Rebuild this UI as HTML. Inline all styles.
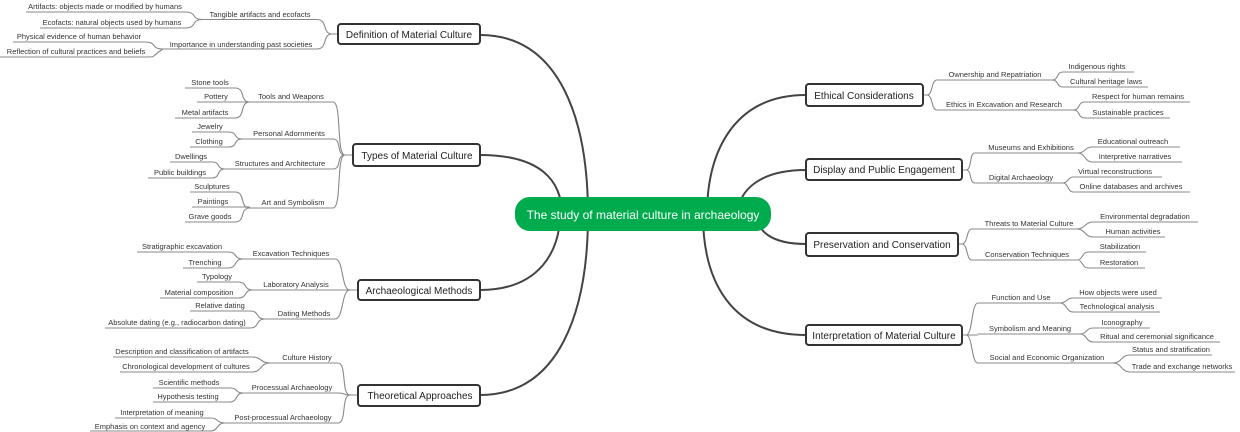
<!DOCTYPE html>
<html><head><meta charset="utf-8"><style>
html,body{margin:0;padding:0;background:#fff;}
svg{display:block;}
text{font-family:"Liberation Sans",Arial,sans-serif;}
.s{font-size:7.5px;fill:#333;text-anchor:middle;}
.m{font-size:10px;fill:#222;text-anchor:middle;}
.l{fill:none;stroke:#888;stroke-width:1.1;}
.b{fill:#fff;stroke:#333;stroke-width:2;}
.c{fill:none;stroke:#444;stroke-width:2;}
</style></head><body>
<svg width="1240" height="432" viewBox="0 0 1240 432" xmlns="http://www.w3.org/2000/svg">
<path class="c" d="M480 35C560 35 588 120 588 215"/>
<path class="c" d="M480 155C540 155 562 180 562 215"/>
<path class="c" d="M480 290C540 290 560 250 560 215"/>
<path class="c" d="M480 395C560 395 588 310 588 215"/>
<path class="c" d="M806 95C735 95 707 150 707 215"/>
<path class="c" d="M806 170C760 170 738 190 738 215"/>
<path class="c" d="M806 244C770 244 757 230 757 215"/>
<path class="c" d="M806 335C730 335 703 280 703 215"/>
<rect x="515" y="197" width="256" height="34" rx="15" fill="#00ab4e"/>
<text x="643" y="219" font-size="12" fill="#fff" text-anchor="middle">The study of material culture in archaeology</text>

<g>
<path class="l" d="M26 12H185M40 28H185M13 42H145M0 57H145M203 19.5H317M163 49H317"/>
<path class="l" d="M185 12C198 12 190 19.5 203 19.5M185 28C198 28 190 19.5 203 19.5M145 42C158 42 150 49 163 49M145 57C158 57 150 57 163 49M317 19.5C328 19.5 322 34 332 34M317 49C328 49 322 34 332 34M332 34H338"/>
<text class="s" x="105" y="9">Artifacts: objects made or modified by humans</text>
<text class="s" x="112" y="25">Ecofacts: natural objects used by humans</text>
<text class="s" x="79" y="39">Physical evidence of human behavior</text>
<text class="s" x="76" y="54">Reflection of cultural practices and beliefs</text>
<text class="s" x="260" y="17">Tangible artifacts and ecofacts</text>
<text class="s" x="241" y="47">Importance in understanding past societies</text>
<rect class="b" x="338" y="24" width="142" height="20" rx="3"/>
<text class="m" x="409" y="38">Definition of Material Culture</text>
</g>

<g>
<path class="l" d="M250 102H333M243 139H333M225 169H333M250 208H333M185 88H235M197 102H235M175 118H235M192 132H228M190 147H228M170 162H212M148 178H212M190 192H235M192 207H235M185 222H235"/>
<path class="l" d="M333 102C342 102 336 155 345 155M333 139C342 139 336 155 345 155M333 169C342 169 336 155 345 155M333 208C342 208 336 155 345 155M345 155H353
M235 88C246 88 239 102 250 102M235 102H250M235 118C246 118 239 102 250 102
M228 132C239 132 232 139 243 139M228 147C239 147 232 139 243 139
M212 162C221 162 216 169 225 169M212 178C221 178 216 169 225 169
M235 192C246 192 239 208 250 208M235 207H250M235 222C246 222 239 208 250 208"/>
<text class="s" x="210" y="85">Stone tools</text>
<text class="s" x="216" y="99">Pottery</text>
<text class="s" x="205" y="115">Metal artifacts</text>
<text class="s" x="210" y="129">Jewelry</text>
<text class="s" x="209" y="144">Clothing</text>
<text class="s" x="191" y="159">Dwellings</text>
<text class="s" x="180" y="175">Public buildings</text>
<text class="s" x="212" y="189">Sculptures</text>
<text class="s" x="213" y="204">Paintings</text>
<text class="s" x="210" y="219">Grave goods</text>
<text class="s" x="291" y="99">Tools and Weapons</text>
<text class="s" x="289" y="136">Personal Adornments</text>
<text class="s" x="280" y="166">Structures and Architecture</text>
<text class="s" x="293" y="205">Art and Symbolism</text>
<rect class="b" x="353" y="144" width="127" height="22" rx="3"/>
<text class="m" x="417" y="159">Types of Material Culture</text>
</g>

<g>
<path class="l" d="M243 259H335M253 290H335M265 319H335M137 252H228M183 268H228M197 282H238M160 298H238M190 311H250M105 328H250"/>
<path class="l" d="M335 259C344 259 341 290 350 290M335 290H358M335 319C344 319 341 290 350 290
M228 252C238 252 233 259 243 259M228 268C238 268 233 259 243 259
M238 282C248 282 243 290 253 290M238 298C248 298 243 290 253 290
M250 311C260 311 255 319 265 319M250 328C260 328 255 319 265 319"/>
<text class="s" x="182" y="249">Stratigraphic excavation</text>
<text class="s" x="205" y="265">Trenching</text>
<text class="s" x="217" y="279">Typology</text>
<text class="s" x="199" y="295">Material composition</text>
<text class="s" x="220" y="308">Relative dating</text>
<text class="s" x="177" y="325">Absolute dating (e.g., radiocarbon dating)</text>
<text class="s" x="291" y="256">Excavation Techniques</text>
<text class="s" x="296" y="287">Laboratory Analysis</text>
<text class="s" x="304" y="316">Dating Methods</text>
<rect class="b" x="358" y="280" width="122" height="20" rx="3"/>
<text class="m" x="419" y="294">Archaeological Methods</text>
</g>

<g>
<path class="l" d="M270 363H338M243 393H338M225 423H338M113 357H252M120 372H252M153 388H230M153 402H230M115 418H210M90 431H210"/>
<path class="l" d="M338 363C347 363 341 395 350 395M338 393C345 393 343 395 350 395M338 423C347 423 341 395 350 395M350 395H358
M252 357C262 357 260 363 270 363M252 372C262 372 260 363 270 363
M230 388C238 388 235 393 243 393M230 402C238 402 235 393 243 393
M210 418C219 418 216 423 225 423M210 431C219 431 216 423 225 423"/>
<text class="s" x="182" y="354">Description and classification of artifacts</text>
<text class="s" x="186" y="369">Chronological development of cultures</text>
<text class="s" x="189" y="385">Scientific methods</text>
<text class="s" x="188" y="399">Hypothesis testing</text>
<text class="s" x="162" y="415">Interpretation of meaning</text>
<text class="s" x="150" y="429">Emphasis on context and agency</text>
<text class="s" x="307" y="360">Culture History</text>
<text class="s" x="292" y="390">Processual Archaeology</text>
<text class="s" x="283" y="420">Post-processual Archaeology</text>
<rect class="b" x="358" y="385" width="122" height="21" rx="3"/>
<text class="m" x="420" y="399">Theoretical Approaches</text>
</g>

<g>
<path class="l" d="M937 80H1052M937 110H1073M1063 72H1134M1063 87H1148M1085 102H1190M1085 118H1170"/>
<path class="l" d="M923 95H927M927 95C933 95 931 80 937 80M927 95C933 95 931 110 937 110
M1052 80C1059 80 1056 72 1063 72M1052 80C1059 80 1056 87 1063 87
M1073 110C1081 110 1077 102 1085 102M1073 110C1081 110 1077 118 1085 118"/>
<text class="s" x="995" y="77">Ownership and Repatriation</text>
<text class="s" x="1004" y="107">Ethics in Excavation and Research</text>
<text class="s" x="1097" y="69">Indigenous rights</text>
<text class="s" x="1106" y="84">Cultural heritage laws</text>
<text class="s" x="1138" y="99">Respect for human remains</text>
<text class="s" x="1128" y="115">Sustainable practices</text>
<rect class="b" x="806" y="84" width="117" height="22" rx="3"/>
<text class="m" x="864" y="99">Ethical Considerations</text>
</g>

<g>
<path class="l" d="M975 153H1078M975 183H1063M1092 147H1180M1092 162H1182M1073 177H1162M1073 192H1190"/>
<path class="l" d="M962 170H966M966 170C972 170 969 153 975 153M966 170C972 170 969 183 975 183
M1078 153C1085 153 1085 147 1092 147M1078 153C1085 153 1085 162 1092 162
M1063 183C1068 183 1068 177 1073 177M1063 183C1068 183 1068 192 1073 192"/>
<text class="s" x="1031" y="150">Museums and Exhibitions</text>
<text class="s" x="1021" y="180">Digital Archaeology</text>
<text class="s" x="1133" y="144">Educational outreach</text>
<text class="s" x="1135" y="159">Interpretive narratives</text>
<text class="s" x="1115" y="174">Virtual reconstructions</text>
<text class="s" x="1131" y="189">Online databases and archives</text>
<rect class="b" x="806" y="159" width="156" height="21" rx="3"/>
<text class="m" x="884" y="173">Display and Public Engagement</text>
</g>

<g>
<path class="l" d="M972 229H1077M972 260H1077M1093 222H1198M1093 237H1165M1088 252H1146M1088 268H1145"/>
<path class="l" d="M958 244H962M962 244C968 244 966 229 972 229M962 244C968 244 966 260 972 260
M1077 229C1085 229 1085 222 1093 222M1077 229C1085 229 1085 237 1093 237
M1077 260C1083 260 1082 252 1088 252M1077 260C1083 260 1082 268 1088 268"/>
<text class="s" x="1029" y="226">Threats to Material Culture</text>
<text class="s" x="1027" y="257">Conservation Techniques</text>
<text class="s" x="1145" y="219">Environmental degradation</text>
<text class="s" x="1133" y="234">Human activities</text>
<text class="s" x="1120" y="249">Stabilization</text>
<text class="s" x="1119" y="265">Restoration</text>
<rect class="b" x="806" y="233" width="152" height="23" rx="3"/>
<text class="m" x="882" y="248">Preservation and Conservation</text>
</g>

<g>
<path class="l" d="M978 303H1060M978 334H1080M978 363H1113M1073 298H1162M1073 312H1160M1093 328H1150M1093 342H1220M1130 355H1212M1130 372H1235"/>
<path class="l" d="M962 335H966M966 335C973 335 971 303 978 303M966 335H978M966 335C973 335 971 363 978 363
M1060 303C1067 303 1066 298 1073 298M1060 303C1067 303 1066 312 1073 312
M1080 334C1087 334 1086 328 1093 328M1080 334C1087 334 1086 342 1093 342
M1113 363C1122 363 1121 355 1130 355M1113 363C1122 363 1121 372 1130 372"/>
<text class="s" x="1021" y="300">Function and Use</text>
<text class="s" x="1030" y="331">Symbolism and Meaning</text>
<text class="s" x="1047" y="360">Social and Economic Organization</text>
<text class="s" x="1118" y="295">How objects were used</text>
<text class="s" x="1117" y="309">Technological analysis</text>
<text class="s" x="1122" y="325">Iconography</text>
<text class="s" x="1157" y="339">Ritual and ceremonial significance</text>
<text class="s" x="1171" y="352">Status and stratification</text>
<text class="s" x="1182" y="369">Trade and exchange networks</text>
<rect class="b" x="806" y="325" width="156" height="20" rx="3"/>
<text class="m" x="884" y="339">Interpretation of Material Culture</text>
</g>
</svg>
</body></html>
